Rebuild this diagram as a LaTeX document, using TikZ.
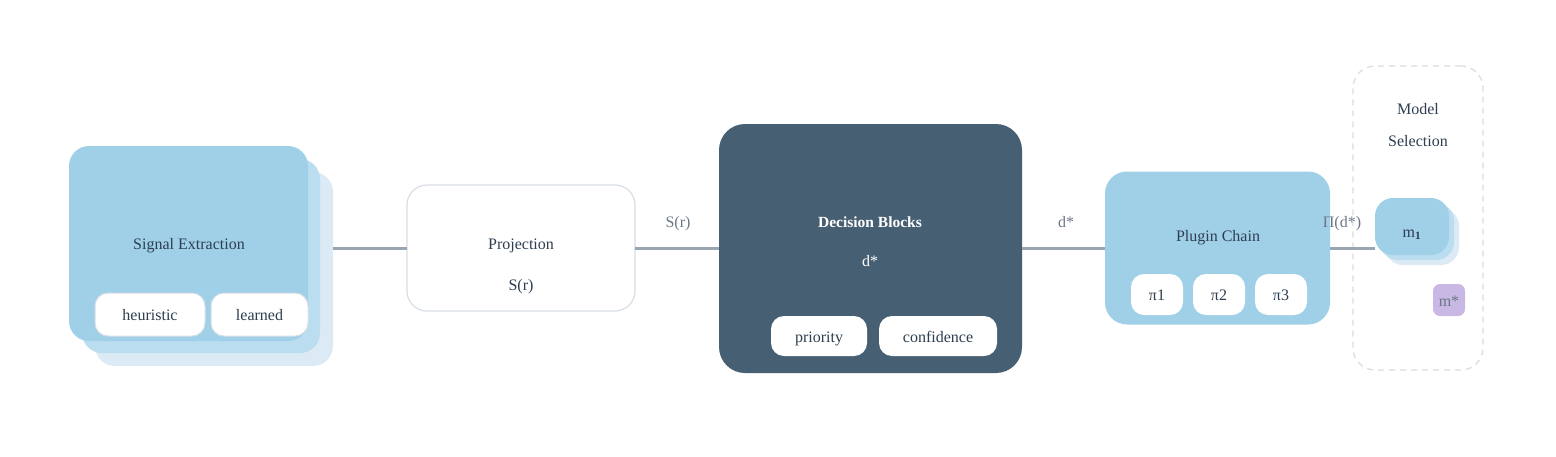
\documentclass[tikz,border=0pt]{standalone}
\usepackage{fontspec}
\setmainfont{Liberation Serif}
\definecolor{skyA}{HTML}{9FD0E8}
\definecolor{skyB}{HTML}{BADDF0}
\definecolor{skyC}{HTML}{DCEAF6}
\definecolor{ink}{HTML}{2D3E50}
\definecolor{slate}{HTML}{475F72}
\definecolor{wire}{HTML}{9AA5B4}
\definecolor{lbl}{HTML}{6B7787}
\definecolor{rim}{HTML}{D8DEE6}
\definecolor{lilac}{HTML}{C9B8E4}
\begin{document}
\begin{tikzpicture}[x=1pt,y=-1pt,
  every node/.style={inner sep=0pt,outer sep=0pt,font=\fontsize{16}{19}\selectfont,text=ink,text height=13pt,text depth=1pt},
  pill/.style={fill=white,draw=rim,line width=1pt,rounded corners=13pt},
  wireln/.style={draw=wire,line width=3pt},
  elabel/.style={text=lbl}]
\useasboundingbox[fill=white] (0,0) rectangle (1556,456);
% Signal Extraction stack
\node[fill=skyC,rounded corners=20pt,minimum width=238pt,minimum height=194pt] (sig3) at (214,269) {};
\node[fill=skyB,rounded corners=20pt,minimum width=238pt,minimum height=194pt] (sig2) at (201,256) {};
\node[fill=skyA,rounded corners=20pt,minimum width=239pt,minimum height=195pt] (sig) at (188.5,243.5) {};
\node (sigt) at (189,243) {Signal Extraction};
\node[pill,minimum width=110pt,minimum height=43pt] (heur) at (150,314.5) {heuristic};
\node[pill,minimum width=97pt,minimum height=43pt] (lrn) at (259.5,314.5) {learned};
% Projection
\node[fill=white,draw=rim,line width=1.2pt,rounded corners=20pt,minimum width=228pt,minimum height=126pt] (proj) at (521,248) {};
\node (projt) at (521,243) {Projection};
\node (projs) at (521,284) {S(r)};
% Decision Blocks
\node[fill=slate,rounded corners=26pt,minimum width=303pt,minimum height=249pt] (dec) at (870.5,248.5) {};
\node[text=white,font=\fontsize{15.5}{18}\selectfont\bfseries] (dect) at (870,221) {Decision Blocks};
\node[text=white] (decd) at (870,260) {d*};
\node[pill,draw=none,minimum width=96pt,minimum height=40pt] (prio) at (819,336) {priority};
\node[pill,draw=none,minimum width=118pt,minimum height=40pt] (conf) at (938,336) {confidence};
% Plugin Chain
\node[fill=skyA,rounded corners=22pt,minimum width=225pt,minimum height=153pt] (plug) at (1217.5,248) {};
\node (plugt) at (1218,235) {Plugin Chain};
\node[pill,draw=none,minimum width=52pt,minimum height=41pt] (p1) at (1157,294.5) {π1};
\node[pill,draw=none,minimum width=52pt,minimum height=41pt] (p2) at (1219,294.5) {π2};
\node[pill,draw=none,minimum width=52pt,minimum height=41pt] (p3) at (1281,294.5) {π3};
% Model Selection
\node[draw=rim,dashed,dash pattern=on 6pt off 5pt,line width=1.3pt,rounded corners=22pt,minimum width=130pt,minimum height=304pt] (msel) at (1418,218) {};
\node (mselt1) at (1418,108) {Model};
\node (mselt2) at (1418,140) {Selection};
\node[fill=skyC,rounded corners=18pt,minimum width=74pt,minimum height=57pt] (m13) at (1422,236.5) {};
\node[fill=skyB,rounded corners=18pt,minimum width=74pt,minimum height=57pt] (m12) at (1417,231.5) {};
\node[fill=skyA,rounded corners=18pt,minimum width=74pt,minimum height=57pt] (m1) at (1412,226.5) {};
\node (m1t) at (1412,231) {m\textsubscript{\bfseries 1}};
\node[fill=lilac,rounded corners=7pt,minimum width=32pt,minimum height=32pt] (mstar) at (1449,300) {};
\node[text=lbl] (mstart) at (1449,300) {m*};
% connectors
\draw[wireln] (sig3.east |- proj.west) -- (proj.west);
\draw[wireln] (proj.east) -- (proj.east -| dec.west);
\draw[wireln] (dec.east |- plug.west) -- (plug.west);
\draw[wireln] (plug.east) -- (plug.east -| m1.west);
% edge labels
\node[elabel] (l1) at (678,221) {S(r)};
\node[elabel] (l2) at (1066,221) {d*};
\node[elabel] (l3) at (1342,221) {Π(d*)};
\end{tikzpicture}
\end{document}
